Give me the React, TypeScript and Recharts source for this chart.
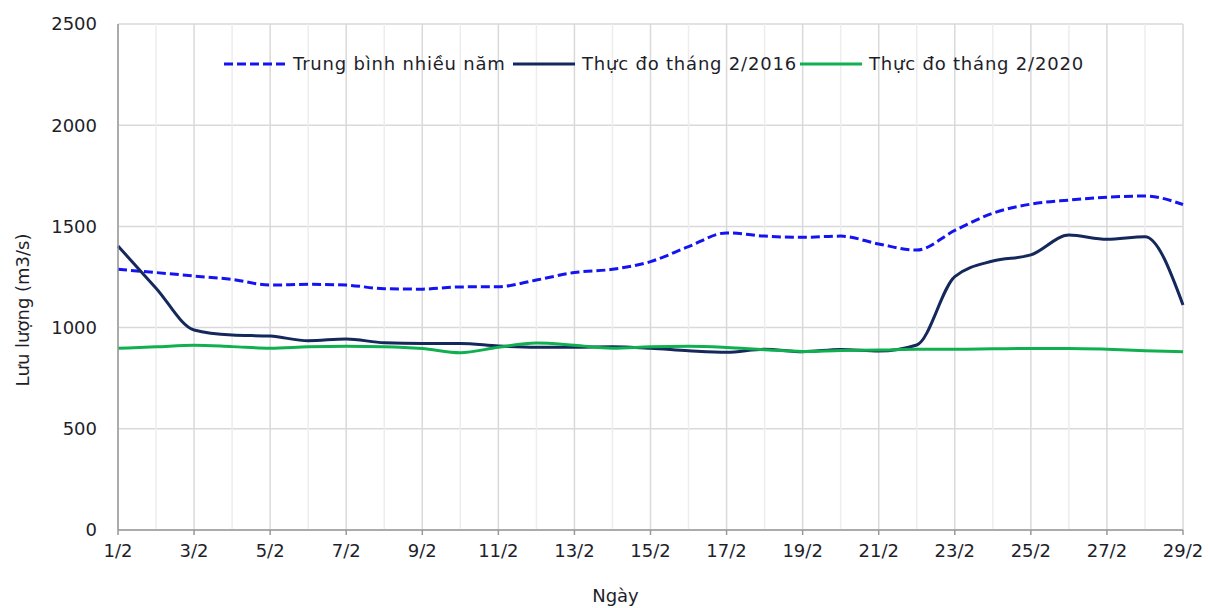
import {
  LineChart,
  Line,
  XAxis,
  YAxis,
  CartesianGrid,
  ReferenceLine,
} from "recharts"

const days = [
  1, 2, 3, 4, 5, 6, 7, 8, 9, 10, 11, 12, 13, 14, 15, 16, 17, 18, 19, 20, 21, 22, 23, 24, 25, 26, 27, 28, 29,
]

const trungBinh = [
  1288, 1272, 1255, 1238, 1210, 1214, 1210, 1192, 1190, 1201, 1202, 1235, 1272, 1288, 1326,
  1400, 1468, 1452, 1446, 1452, 1413, 1383, 1480, 1565, 1610, 1630, 1644, 1650, 1608,
]

const thang2016 = [
  1403, 1195, 988, 963, 958, 935, 944, 925, 922, 922, 909, 903, 903, 905, 898,
  886, 878, 893, 881, 892, 884, 914, 1252, 1329, 1359, 1457, 1436, 1449, 1112,
]

const thang2020 = [
  898, 905, 913, 906, 898, 905, 908, 906, 897, 876, 903, 924, 913, 898, 905,
  908, 902, 891, 882, 887, 889, 893, 893, 895, 897, 897, 893, 886, 881,
]

const seriesNames = ["Trung bình nhiều năm", "Thực đo tháng 2/2016", "Thực đo tháng 2/2020"]
const yTicks = [0, 500, 1000, 1500, 2000, 2500]

const oddDays = days.filter((d) => d % 2 === 1)
const evenDays = days.filter((d) => d % 2 === 0)

const data = days.map((d, i) => ({
  day: d,
  tb: trungBinh[i],
  y2016: thang2016[i],
  y2020: thang2020[i],
}))

const FONT = "'DejaVu Sans', Verdana, sans-serif"
const TEXT = "#1e1e2a"
const FS = 18

const legendItems = [
  { name: seriesNames[0], color: "#1414f0", dash: "9 4", left: 216 },
  { name: seriesNames[1], color: "#14285c", dash: undefined, left: 505 },
  { name: seriesNames[2], color: "#10b050", dash: undefined, left: 792 },
]

function ChartLegend() {
  return (
    <>
      {legendItems.map((it) => (
        <div
          key={it.name}
          style={{
            position: "absolute",
            left: it.left,
            top: 45,
            display: "flex",
            alignItems: "center",
            fontFamily: FONT,
            fontSize: FS,
            color: TEXT,
            whiteSpace: "nowrap",
            letterSpacing: 0.8,
          }}
        >
          <svg width={62} height={10} style={{ marginRight: 7 }}>
            <line x1={0} y1={5} x2={62} y2={5} stroke={it.color} strokeWidth={3} strokeDasharray={it.dash} />
          </svg>
          <span>{it.name}</span>
        </div>
      ))}
    </>
  )
}

const yLabel = (props: any) => {
  const vb = props.viewBox
  const cx = 14
  const cy = vb.y + vb.height / 2 + 33
  return (
    <text
      x={cx}
      y={cy}
      transform={`rotate(-90 ${cx} ${cy})`}
      textAnchor="middle"
      dominantBaseline="central"
      fill={TEXT}
      fontSize={FS}
      fontFamily={FONT}
    >
      Lưu lượng (m3/s)
    </text>
  )
}

const xLabel = (props: any) => {
  const vb = props.viewBox
  return (
    <text
      x={vb.x + vb.width / 2 - 35}
      y={587}
      textAnchor="middle"
      dominantBaseline="central"
      fill={TEXT}
      fontSize={FS}
      fontFamily={FONT}
    >
      Ngày
    </text>
  )
}

export default function App() {
  return (
    <div style={{ position: "relative", width: 1194, height: 600, background: "#fff" }}>
      <LineChart
        width={1194}
        height={600}
        data={data}
        margin={{ top: 16, right: 19, left: 0, bottom: 0 }}
      >
        <CartesianGrid stroke="#d9d9d9" strokeWidth={1.5} vertical={true} horizontal={true} />
        {evenDays.map((d) => (
          <ReferenceLine key={d} x={d} stroke="#ededed" strokeWidth={1.5} />
        ))}
        <XAxis
          dataKey="day"
          type="number"
          domain={[1, 29]}
          ticks={oddDays}
          tickFormatter={(v) => `${v}/2`}
          stroke="#999"
          strokeWidth={1.5}
          tickSize={5}
          tickMargin={9}
          tick={{ fill: TEXT, fontSize: FS, fontFamily: FONT }}
          height={78}
          label={xLabel}
        />
        <YAxis
          domain={[0, 2500]}
          ticks={yTicks}
          stroke="#999"
          strokeWidth={1.5}
          tickLine={false}
          tickMargin={15}
          width={110}
          tick={{ fill: TEXT, fontSize: FS, fontFamily: FONT }}
          label={yLabel}
        />
        <Line
          type="monotone"
          dataKey="tb"
          name={seriesNames[0]}
          stroke="#1414f0"
          strokeWidth={3}
          strokeDasharray="9 4"
          dot={false}
          isAnimationActive={false}
        />
        <Line
          type="monotone"
          dataKey="y2016"
          name={seriesNames[1]}
          stroke="#14285c"
          strokeWidth={3}
          dot={false}
          isAnimationActive={false}
        />
        <Line
          type="monotone"
          dataKey="y2020"
          name={seriesNames[2]}
          stroke="#10b050"
          strokeWidth={3}
          dot={false}
          isAnimationActive={false}
        />
      </LineChart>
      <ChartLegend />
    </div>
  )
}
